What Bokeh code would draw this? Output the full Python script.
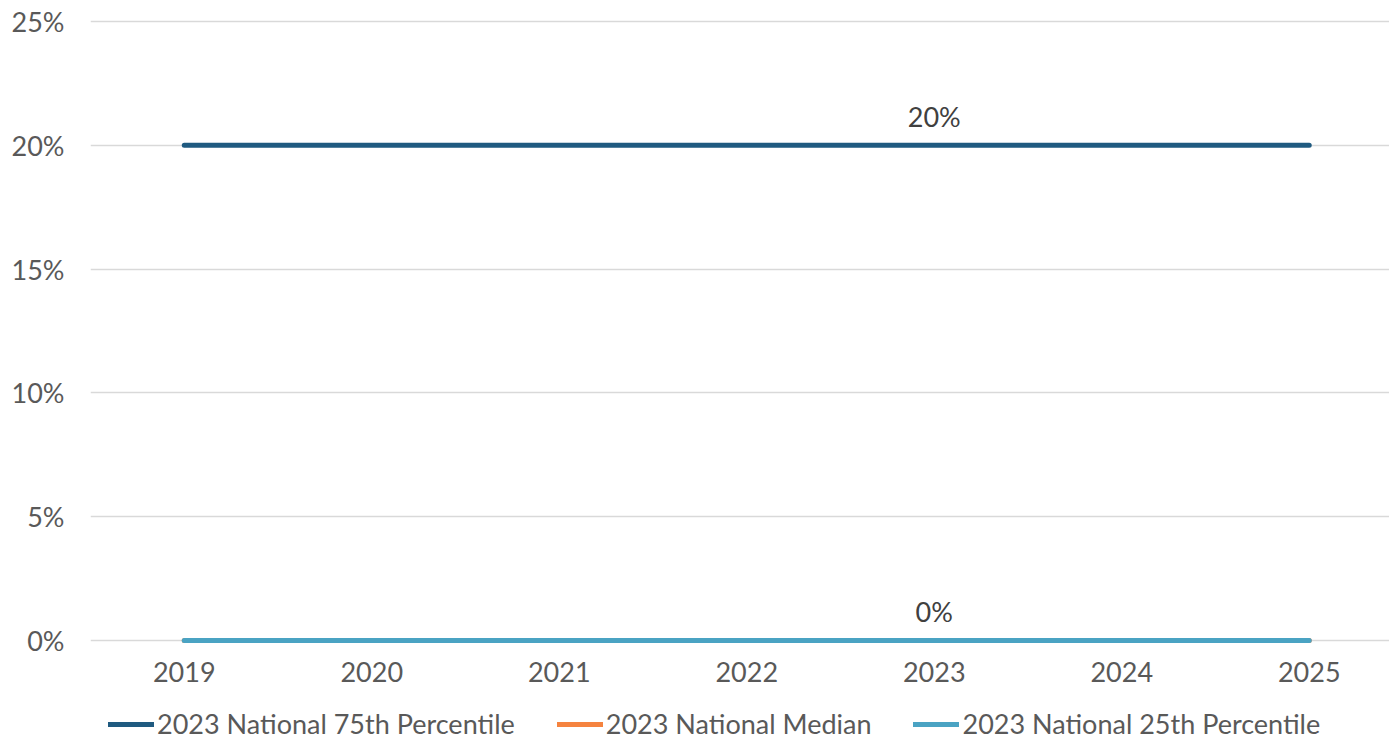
from bokeh.plotting import figure
from bokeh.layouts import column
from bokeh.models import (Range1d, FixedTicker, NumeralTickFormatter, Legend,
                          LegendItem, ColumnDataSource, LabelSet, CustomJSTickFormatter)
from bokeh.core.properties import value
from bokeh.embed import file_html
from bokeh.resources import INLINE

# Benchmark series by year
years = [2019, 2020, 2021, 2022, 2023, 2024, 2025]
pct_75th = [0.20, 0.20, 0.20, 0.20, 0.20, 0.20, 0.20]
median = [0.0, 0.0, 0.0, 0.0, 0.0, 0.0, 0.0]
pct_25th = [0.0, 0.0, 0.0, 0.0, 0.0, 0.0, 0.0]

series_names = ["2023 National 75th Percentile", "2023 National Median",
                "2023 National 25th Percentile"]
series_colors = ["#1f5a80", "#f5833f", "#4aa3c3"]
series_values = [pct_75th, median, pct_25th]

# Value labels shown once per series
label_years = [2023, 2023]
label_values = [0.20, 0.0]
label_texts = ["20%", "0%"]

FONT = "Lato"
GREY = "#595959"
FS = "27px"

p = figure(width=1389, height=700, output_backend="svg", toolbar_location=None,
           x_range=Range1d(2018.5, 2025.428), y_range=Range1d(-0.00323, 0.25404),
           min_border_left=90, min_border_right=0, min_border_top=11,
           min_border_bottom=52, outline_line_color=None)

for vals, col in zip(series_values, series_colors):
    p.line(years, vals, line_color=col, line_width=5, line_cap="round")

src = ColumnDataSource(dict(x=label_years, y=label_values, t=label_texts))
p.add_layout(LabelSet(x="x", y="y", text="t", source=src, y_offset=29,
                      text_align="center", text_baseline="middle",
                      text_font=value(FONT), text_font_size=FS, text_color="#404040"))

p.xaxis.ticker = FixedTicker(ticks=years)
p.xaxis.formatter = CustomJSTickFormatter(code="return tick.toFixed(0);")
p.yaxis.ticker = FixedTicker(ticks=[0, 0.05, 0.10, 0.15, 0.20, 0.25])
p.yaxis.formatter = NumeralTickFormatter(format="0%")
for ax in (p.xaxis[0], p.yaxis[0]):
    ax.axis_line_color = None
    ax.major_tick_line_color = None
    ax.minor_tick_line_color = None
    ax.major_tick_out = 0
    ax.major_label_text_font = FONT
    ax.major_label_text_font_size = FS
    ax.major_label_text_color = GREY
p.yaxis.major_label_standoff = 26
p.xaxis.major_label_standoff = 13

p.xgrid.grid_line_color = None
p.ygrid.grid_line_color = "#d9d9d9"
p.ygrid.grid_line_width = 1.5

# Legend strip under the chart; its lines sit outside the strip's range,
# so only the legend swatches show
lg = figure(width=1389, height=40, output_backend="svg", toolbar_location=None,
            x_range=Range1d(0, 1), y_range=Range1d(0, 1),
            min_border=0, outline_line_color=None)
lg.axis.visible = False
lg.grid.visible = False
items = []
for name, vals, col in zip(series_names, series_values, series_colors):
    r = lg.line(years, vals, line_color=col, line_width=5, line_cap="round")
    items.append(LegendItem(label=name, renderers=[r]))
legend = Legend(items=items, orientation="horizontal", location=(18, 0),
                label_text_font=FONT, label_text_font_size=FS,
                label_text_color=GREY, glyph_width=46, glyph_height=20,
                label_height=20, label_standoff=3, spacing=42, padding=0, margin=0,
                border_line_color=None, background_fill_alpha=0)
lg.add_layout(legend)

open("out.html", "w").write(file_html(column(p, lg, spacing=0), INLINE))
